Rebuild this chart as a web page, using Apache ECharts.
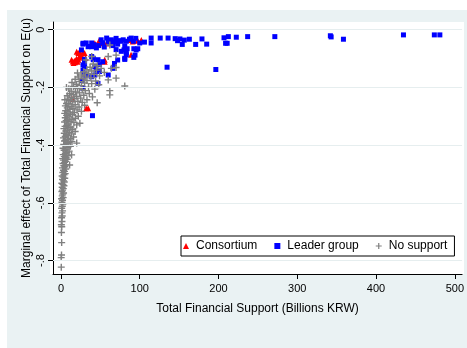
<!DOCTYPE html>
<html>
<head>
<meta charset="utf-8">
<script src="https://cdn.jsdelivr.net/npm/echarts@6/dist/echarts.min.js"></script>
<style>
html,body{margin:0;padding:0;background:#ffffff;}
#chart{width:467px;height:348px;}
</style>
</head>
<body>
<div id="chart"></div>
<script>
const seriesNames = ['Consortium', 'Leader group', 'No support'];
const xTicks = [0, 100, 200, 300, 400, 500];
const yTicks = [0, -0.2, -0.4, -0.6, -0.8];
const yTickLabels = ['0', '-.2', '-.4', '-.6', '-.8'];

const consortium = [
[13.5,-0.104],[15,-0.110],[16,-0.115],[17,-0.108],[18,-0.113],[19,-0.106],[20,-0.100],[21,-0.111],
[22,-0.104],[23,-0.097],[24,-0.092],[25,-0.087],[27,-0.094],[28,-0.080],[30,-0.081],[31,-0.098],
[22,-0.081],[20,-0.076],[24,-0.077],[43,-0.047],[48,-0.040],[49,-0.047],[58,-0.047],[62,-0.047],
[87,-0.036],[91,-0.041],[97.6,-0.038],[102,-0.036],[55.5,-0.104],[55.5,-0.111],[89,-0.087],
[32,-0.272],[34.5,-0.272],[15,-0.240]
];

const leaderGroup = [
[28,-0.050],[32,-0.046],[35,-0.058],[39,-0.046],[42,-0.052],[45,-0.063],[48,-0.055],[51,-0.035],
[53,-0.045],[55,-0.060],[58,-0.029],[60,-0.040],[62,-0.048],[64,-0.035],[66,-0.055],[68,-0.042],
[70,-0.030],[72,-0.050],[74,-0.038],[76.6,-0.040],[79,-0.035],[81,-0.056],[83,-0.040],[87,-0.033],
[89,-0.029],[92,-0.040],[95,-0.030],[100,-0.046],[106,-0.043],[114.5,-0.029],[114.5,-0.046],
[126,-0.029],[136,-0.029],[145,-0.031],[148,-0.038],[151,-0.032],[154,-0.051],[156.6,-0.036],
[163,-0.033],[171,-0.051],[179,-0.032],[185,-0.050],[207,-0.028],[209,-0.047],[211,-0.047],
[212.5,-0.024],[222.6,-0.026],[237,-0.024],[271.5,-0.024],[342,-0.021],[343,-0.025],[358.6,-0.033],
[434.8,-0.018],[474,-0.018],[481,-0.018],
[70,-0.069],[76.6,-0.075],[80,-0.070],[83,-0.080],[84,-0.066],[92.5,-0.066],[97.5,-0.066],
[83,-0.087],[92.5,-0.096],[81,-0.103],[41,-0.104],[30,-0.110],[47,-0.104],[49,-0.121],
[134.7,-0.130],[196.6,-0.138],
[28,-0.122],[30,-0.103],[39,-0.093],[43,-0.128],[49,-0.145],[39,-0.163],[27,-0.176],[30,-0.157],
[47,-0.186],[28,-0.203],[40,-0.298],[66,-0.134],[68,-0.117],[72,-0.105],[81,-0.099],[34.5,-0.059],
[26,-0.070],[41,-0.099],[53,-0.111],[45,-0.140],[32,-0.157],[60,-0.157],[95.5,-0.070],[94,-0.088],
[28,-0.140],[28,-0.047],[39,-0.059],[43,-0.157],[30,-0.128]
];

const noSupport = [
[0.4,-0.823],[0.3,-0.790],[0.7,-0.781],[0.9,-0.738],[0.6,-0.703],[1.0,-0.683],[0.5,-0.676],[1.3,-0.665],
[0.8,-0.652],[1.6,-0.646],[1.2,-0.635],[2.0,-0.628],[0.9,-0.619],[1.7,-0.612],[2.4,-0.604],[1.3,-0.598],
[2.0,-0.591],[0.8,-0.586],[2.8,-0.582],[1.6,-0.576],
[2.3,-0.570],[3.3,-0.566],[1.2,-0.561],[2.0,-0.556],[3.0,-0.551],[1.6,-0.546],[3.8,-0.541],[2.5,-0.536],
[1.1,-0.532],[4.2,-0.528],[3.3,-0.524],[2.0,-0.519],[4.8,-0.515],[2.8,-0.511],[1.5,-0.507],[3.8,-0.503],
[5.4,-0.499],[2.4,-0.495],[4.4,-0.491],[3.2,-0.487],[6.1,-0.483],[1.9,-0.479],[5.0,-0.475],[3.6,-0.471],
[7.0,-0.468],[2.7,-0.464],[4.6,-0.460],[11.0,-0.469],[5.8,-0.456],[3.3,-0.452],[8.0,-0.449],[2.2,-0.447],
[6.6,-0.444],[4.2,-0.440],[9.0,-0.437],[13.5,-0.434],[3.0,-0.433],[5.5,-0.429],[7.6,-0.425],[10.4,-0.421],
[4.0,-0.418],[6.4,-0.414],[2.6,-0.411],[8.8,-0.408],[12.0,-0.404],[5.0,-0.401],[3.5,-0.398],[7.4,-0.395],
[20.0,-0.393],[10.0,-0.391],[14.0,-0.388],[4.5,-0.386],[6.0,-0.383],[8.5,-0.380],[12.0,-0.377],[3.2,-0.375],
[16.0,-0.372],[5.4,-0.370],[9.6,-0.367],[7.0,-0.364],[13.5,-0.361],[4.2,-0.359],[11.0,-0.356],[18.0,-0.353],
[6.2,-0.351],[8.2,-0.348],[15.0,-0.345],[3.8,-0.343],[10.0,-0.340],[12.6,-0.337],[5.2,-0.335],[7.5,-0.332],
[20.0,-0.330],[9.2,-0.327],[24.0,-0.324],[16.5,-0.322],[4.6,-0.320],[11.5,-0.318],[6.6,-0.315],[13.8,-0.312],
[8.4,-0.310],[18.5,-0.307],[5.5,-0.305],[10.4,-0.302],[22.0,-0.300],[7.2,-0.297],[14.8,-0.295],[12.0,-0.292],
[4.8,-0.290],[17.0,-0.287],[9.0,-0.285],[26.0,-0.283],[6.0,-0.281],[20.5,-0.278],[11.2,-0.276],[15.2,-0.273],
[8.0,-0.271],[23.0,-0.268],[13.0,-0.266],[5.6,-0.264],[30.0,-0.262],[18.0,-0.260],[10.0,-0.258],[7.0,-0.256],
[46.0,-0.253],[27.0,-0.252],[15.0,-0.250],[21.5,-0.248],[12.0,-0.246],[5.0,-0.243],[33.0,-0.243],[9.0,-0.241],
[17.5,-0.239],[25.0,-0.237],[13.6,-0.235],[40.0,-0.233],[20.0,-0.231],[8.0,-0.229],[29.0,-0.227],[62.0,-0.226],
[16.0,-0.225],[11.0,-0.222],[36.0,-0.221],[23.5,-0.219],[18.5,-0.216],[62.0,-0.211],[13.0,-0.213],[31.0,-0.211],
[27.0,-0.208],[43.0,-0.206],[10.0,-0.205],[21.0,-0.203],[7.0,-0.200],[35.0,-0.199],[16.0,-0.197],[81.0,-0.195],
[26.0,-0.194],[48.0,-0.191],[19.5,-0.189],[39.0,-0.187],[30.0,-0.185],[14.0,-0.183],[23.5,-0.180],[44.0,-0.178],
[60.0,-0.174],[33.0,-0.176],[18.0,-0.172],[28.0,-0.170],[70.0,-0.168],[38.0,-0.167],[22.0,-0.164],[49.0,-0.160],
[31.0,-0.161],[26.0,-0.157],[42.0,-0.155],[35.0,-0.152],[21.0,-0.150],[55.0,-0.148],[29.0,-0.146],[39.0,-0.143],
[33.0,-0.139],[45.0,-0.140],[64.0,-0.134],[51.0,-0.134],[70.0,-0.131],[37.0,-0.130],[46.0,-0.125],[41.0,-0.119],
[32.0,-0.105],[39.0,-0.093],[60.0,-0.093],[70.0,-0.088],[62.0,-0.053]
];

const PLUS = 'path://M4,0H6V4H10V6H6V10H4V6H0V4H4Z';
const FONT = "'Liberation Sans', Arial, sans-serif";

const chart = echarts.init(document.getElementById('chart'), null, {renderer: 'canvas'});
chart.setOption({
  animation: false,
  backgroundColor: '#ffffff',
  textStyle: {fontFamily: FONT},
  graphic: {
    elements: [
      {type: 'rect', z: -100, shape: {x: 7, y: 10, width: 460, height: 338}, style: {fill: '#eaf2f3'}},
      {type: 'rect', z: -99, shape: {x: 50, y: 22, width: 414, height: 252}, style: {fill: '#ffffff'}}
    ]
  },
  grid: {left: 53, right: 3, top: 22, bottom: 74},
  legend: {
    left: 181, top: 236,
    orient: 'horizontal',
    backgroundColor: '#ffffff',
    borderColor: '#000000', borderWidth: 1, borderRadius: 0,
    padding: [4, 7, 4, 2],
    itemGap: 17, itemWidth: 6, itemHeight: 6,
    textStyle: {fontSize: 12, color: '#000000', fontFamily: FONT, padding: [0, 0, 0, 2]},
    data: seriesNames
  },
  xAxis: {
    type: 'value', min: -10.1, max: 509.2,
    name: 'Total Financial Support (Billions KRW)',
    nameLocation: 'middle', nameGap: 29, nameMoveOverlap: false,
    nameTextStyle: {fontSize: 12, color: '#000000', fontFamily: FONT},
    axisLine: {show: true, onZero: false, lineStyle: {color: '#000000', width: 1}},
    axisTick: {show: true, length: 5, lineStyle: {color: '#000000'}, customValues: xTicks},
    axisLabel: {fontSize: 11, color: '#000000', margin: 9, customValues: xTicks, fontFamily: FONT},
    splitLine: {show: false}
  },
  yAxis: {
    type: 'value', min: -0.8468, max: 0.0267,
    name: 'Marginal effect of Total Financial Support on E(u)',
    nameLocation: 'middle', nameGap: 20, nameMoveOverlap: false,
    nameTextStyle: {fontSize: 12, color: '#000000', fontFamily: FONT},
    axisLine: {show: true, onZero: false, lineStyle: {color: '#000000', width: 1}},
    axisTick: {show: true, length: 5, lineStyle: {color: '#000000'}, customValues: yTicks},
    axisLabel: {
      fontSize: 11, color: '#000000', margin: 7, rotate: 90, customValues: yTicks, fontFamily: FONT,
      formatter: function (v) {
        for (let i = 0; i < yTicks.length; i++) {
          if (Math.abs(yTicks[i] - v) < 1e-6) return yTickLabels[i];
        }
        return '';
      }
    },
    splitLine: {show: false}
  },
  series: [
    {
      name: 'grid', type: 'scatter', data: [], z: 1, silent: true,
      markLine: {
        silent: true, symbol: ['none', 'none'], label: {show: false},
        lineStyle: {color: '#e6eeef', width: 1, type: 'solid'},
        data: yTicks.map(v => ({yAxis: v}))
      }
    },
    {
      name: seriesNames[0], type: 'scatter', z: 2, data: consortium,
      symbol: 'triangle', symbolSize: 6,
      itemStyle: {color: '#ff0000', opacity: 1}
    },
    {
      name: seriesNames[1], type: 'scatter', z: 3, data: leaderGroup,
      symbol: 'rect', symbolSize: 5,
      itemStyle: {color: '#0000ff', opacity: 1}
    },
    {
      name: seriesNames[2], type: 'scatter', z: 4, data: noSupport,
      symbol: PLUS, symbolSize: 7,
      itemStyle: {color: '#808080', opacity: 1}
    }
  ]
});
</script>
</body>
</html>
